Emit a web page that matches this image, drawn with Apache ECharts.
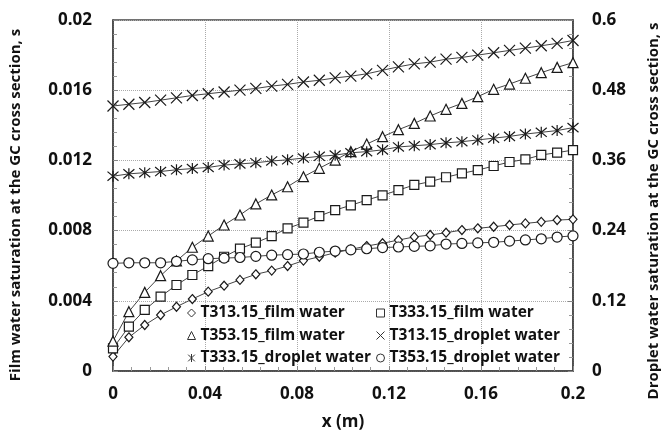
<!DOCTYPE html>
<html>
<head>
<meta charset="utf-8">
<script src="https://cdn.jsdelivr.net/npm/echarts@6/dist/echarts.min.js"></script>
<style>html,body{margin:0;padding:0;background:#fff}#c{width:663px;height:436px}</style>
</head>
<body>
<div id="c"></div>
<script>
var xValues = [0, 0.0069, 0.0138, 0.0207, 0.0276, 0.0345, 0.0414, 0.0483, 0.0552, 0.0621,
  0.0690, 0.0759, 0.0828, 0.0897, 0.0966, 0.1034, 0.1103, 0.1172, 0.1241, 0.1310,
  0.1379, 0.1448, 0.1517, 0.1586, 0.1655, 0.1724, 0.1793, 0.1862, 0.1931, 0.2];

var film313 = [0.00082, 0.00192, 0.00262, 0.00319, 0.00366, 0.0041, 0.00452, 0.00486, 0.00519, 0.00551,
  0.00572, 0.00598, 0.00629, 0.00651, 0.00674, 0.00693, 0.00712, 0.00728, 0.00746, 0.00764,
  0.00775, 0.00788, 0.00803, 0.00813, 0.00822, 0.00832, 0.00841, 0.0085, 0.0086, 0.00864];
var film333 = [0.00129, 0.00253, 0.00348, 0.00424, 0.0049, 0.00547, 0.00598, 0.00651, 0.00697, 0.00731,
  0.00769, 0.00813, 0.00845, 0.00883, 0.00917, 0.00944, 0.00974, 0.01001, 0.01031, 0.0106,
  0.01079, 0.01104, 0.01126, 0.01145, 0.01168, 0.01191, 0.01206, 0.01231, 0.01244, 0.01259];
var film353 = [0.0017, 0.00338, 0.00448, 0.00543, 0.00627, 0.00705, 0.00769, 0.00832, 0.00889, 0.00952,
  0.01003, 0.0105, 0.01107, 0.01155, 0.01202, 0.0125, 0.01293, 0.01335, 0.01375, 0.01411,
  0.01453, 0.01491, 0.01525, 0.01563, 0.01605, 0.01635, 0.01668, 0.017, 0.0173, 0.01757];
var drop313 = [0.453, 0.456, 0.459, 0.463, 0.467, 0.471, 0.474, 0.477, 0.480, 0.483,
  0.487, 0.490, 0.494, 0.497, 0.501, 0.504, 0.508, 0.514, 0.520, 0.525,
  0.528, 0.533, 0.536, 0.540, 0.544, 0.548, 0.552, 0.556, 0.560, 0.565];
var drop333 = [0.333, 0.337, 0.339, 0.341, 0.344, 0.346, 0.348, 0.352, 0.354, 0.356,
  0.359, 0.361, 0.364, 0.367, 0.369, 0.373, 0.375, 0.378, 0.383, 0.385,
  0.387, 0.390, 0.392, 0.395, 0.398, 0.401, 0.405, 0.408, 0.411, 0.416];
var drop353 = [0.184, 0.185, 0.185, 0.185, 0.1875, 0.190, 0.192, 0.193, 0.194, 0.196,
  0.198, 0.199, 0.200, 0.203, 0.205, 0.207, 0.209, 0.211, 0.212, 0.213,
  0.214, 0.217, 0.218, 0.219, 0.220, 0.222, 0.224, 0.226, 0.229, 0.231];

var seriesNames = ['T313.15_film water', 'T333.15_film water', 'T353.15_film water',
  'T313.15_droplet water', 'T333.15_droplet water', 'T353.15_droplet water'];
var xTicks = ['0', '0.04', '0.08', '0.12', '0.16', '0.2'];
var leftTicks = ['0', '0.004', '0.008', '0.012', '0.016', '0.02'];
var rightTicks = ['0', '0.12', '0.24', '0.36', '0.48', '0.6'];

var FONT = 'Open Sans';
var INK = '#1a1a1a';
var X_PATH = 'path://M0,0L10,10M10,0L0,10';
var STAR_PATH = 'path://M0,0L10,10M10,0L0,10M5,-1L5,11';
var symbols = ['diamond', 'rect', 'triangle', X_PATH, STAR_PATH, 'circle'];
var sizes = [[8, 9], 9, 10, 11, 11, 10];
var datasets = [film313, film333, film353, drop313, drop333, drop353];
var yIdx = [0, 0, 0, 1, 1, 1];

function pairs(arr) { return xValues.map(function (x, i) { return [x, arr[i]]; }); }
function tickFmt(list, step) {
  return function (v) { var k = Math.round(v / step); return list[k] !== undefined ? list[k] : ''; };
}

var series = datasets.map(function (d, i) {
  return {
    name: seriesNames[i], type: 'line', yAxisIndex: yIdx[i], data: pairs(d),
    symbol: symbols[i], symbolSize: sizes[i], showAllSymbol: true,
    lineStyle: { color: '#444', width: 1 },
    itemStyle: { color: '#fff', borderColor: INK, borderWidth: 1.2 },
    emphasis: { disabled: true }, animation: false, z: 3
  };
});

function legendData(names, syms) {
  return names.map(function (n, k) {
    return { name: n, icon: syms[k], itemStyle: { color: '#fff', borderColor: '#333', borderWidth: 1 } };
  });
}
var legendText = { fontFamily: FONT, fontWeight: 'bold', fontSize: 15.5, color: '#111', lineHeight: 18 };

var chart = echarts.init(document.getElementById('c'), null, { renderer: 'canvas' });
chart.setOption({
  backgroundColor: '#fff',
  animation: false,
  grid: { left: 113, right: 90, top: 20, bottom: 65, show: true, borderColor: '#444', borderWidth: 1.5,
    backgroundColor: 'transparent', containLabel: false, outerBoundsMode: 'none' },
  legend: [
    { left: 182, top: 299, orient: 'vertical', itemGap: 4.5, itemWidth: 8, itemHeight: 8,
      textStyle: legendText, selectedMode: false,
      data: legendData([seriesNames[0], seriesNames[2], seriesNames[4]], [symbols[0], symbols[2], symbols[4]]) },
    { left: 371, top: 299, orient: 'vertical', itemGap: 4.5, itemWidth: 8, itemHeight: 8,
      textStyle: legendText, selectedMode: false,
      data: legendData([seriesNames[1], seriesNames[3], seriesNames[5]], [symbols[1], symbols[3], symbols[5]]) }
  ],
  xAxis: {
    type: 'value', min: 0, max: 0.2, interval: 0.04,
    name: 'x (m)', nameLocation: 'middle', nameGap: 43,
    nameTextStyle: { fontFamily: FONT, fontWeight: 'bold', fontSize: 17, color: '#111' },
    axisLine: { show: true, lineStyle: { color: '#444', width: 1.5 } },
    axisTick: { show: true, inside: true, length: 5, lineStyle: { color: '#888' } },
    minorTick: { show: true, splitNumber: 5, length: 4, lineStyle: { color: '#999' } },
    axisLabel: { margin: 15, fontFamily: FONT, fontWeight: 'bold', fontSize: 17, color: '#111', formatter: tickFmt(xTicks, 0.04) },
    splitLine: { show: true, lineStyle: { color: '#aaa', type: 'dotted', width: 1 } }
  },
  yAxis: [
    {
      type: 'value', min: 0, max: 0.02, interval: 0.004, position: 'left',
      name: 'Film water saturation at the GC cross section, s', nameLocation: 'middle', nameGap: 90,
      nameTextStyle: { fontFamily: FONT, fontWeight: 'bold', fontSize: 15, color: '#111', padding: [0, 19, 0, 0] },
      axisLine: { show: true, lineStyle: { color: '#444', width: 1.5 } },
      axisTick: { show: true, inside: true, length: 5, lineStyle: { color: '#888' } },
      minorTick: { show: true, splitNumber: 5, length: 4, lineStyle: { color: '#999' } },
      axisLabel: { margin: 21, fontFamily: FONT, fontWeight: 'bold', fontSize: 17, color: '#111', formatter: tickFmt(leftTicks, 0.004) },
      splitLine: { show: true, lineStyle: { color: '#aaa', type: 'dotted', width: 1 } }
    },
    {
      type: 'value', min: 0, max: 0.6, interval: 0.12, position: 'right',
      name: 'Droplet water saturation at the GC cross section, s', nameLocation: 'middle', nameGap: 73,
      nameTextStyle: { fontFamily: FONT, fontWeight: 'bold', fontSize: 15, color: '#111', padding: [0, 31, 0, 0] },
      axisLine: { show: true, lineStyle: { color: '#444', width: 1.5 } },
      axisTick: { show: true, inside: true, length: 5, lineStyle: { color: '#888' } },
      minorTick: { show: true, splitNumber: 5, length: 4, lineStyle: { color: '#999' } },
      axisLabel: { margin: 19, fontFamily: FONT, fontWeight: 'bold', fontSize: 17, color: '#111', formatter: tickFmt(rightTicks, 0.12) },
      splitLine: { show: false }
    }
  ],
  series: series
});
</script>
</body>
</html>
